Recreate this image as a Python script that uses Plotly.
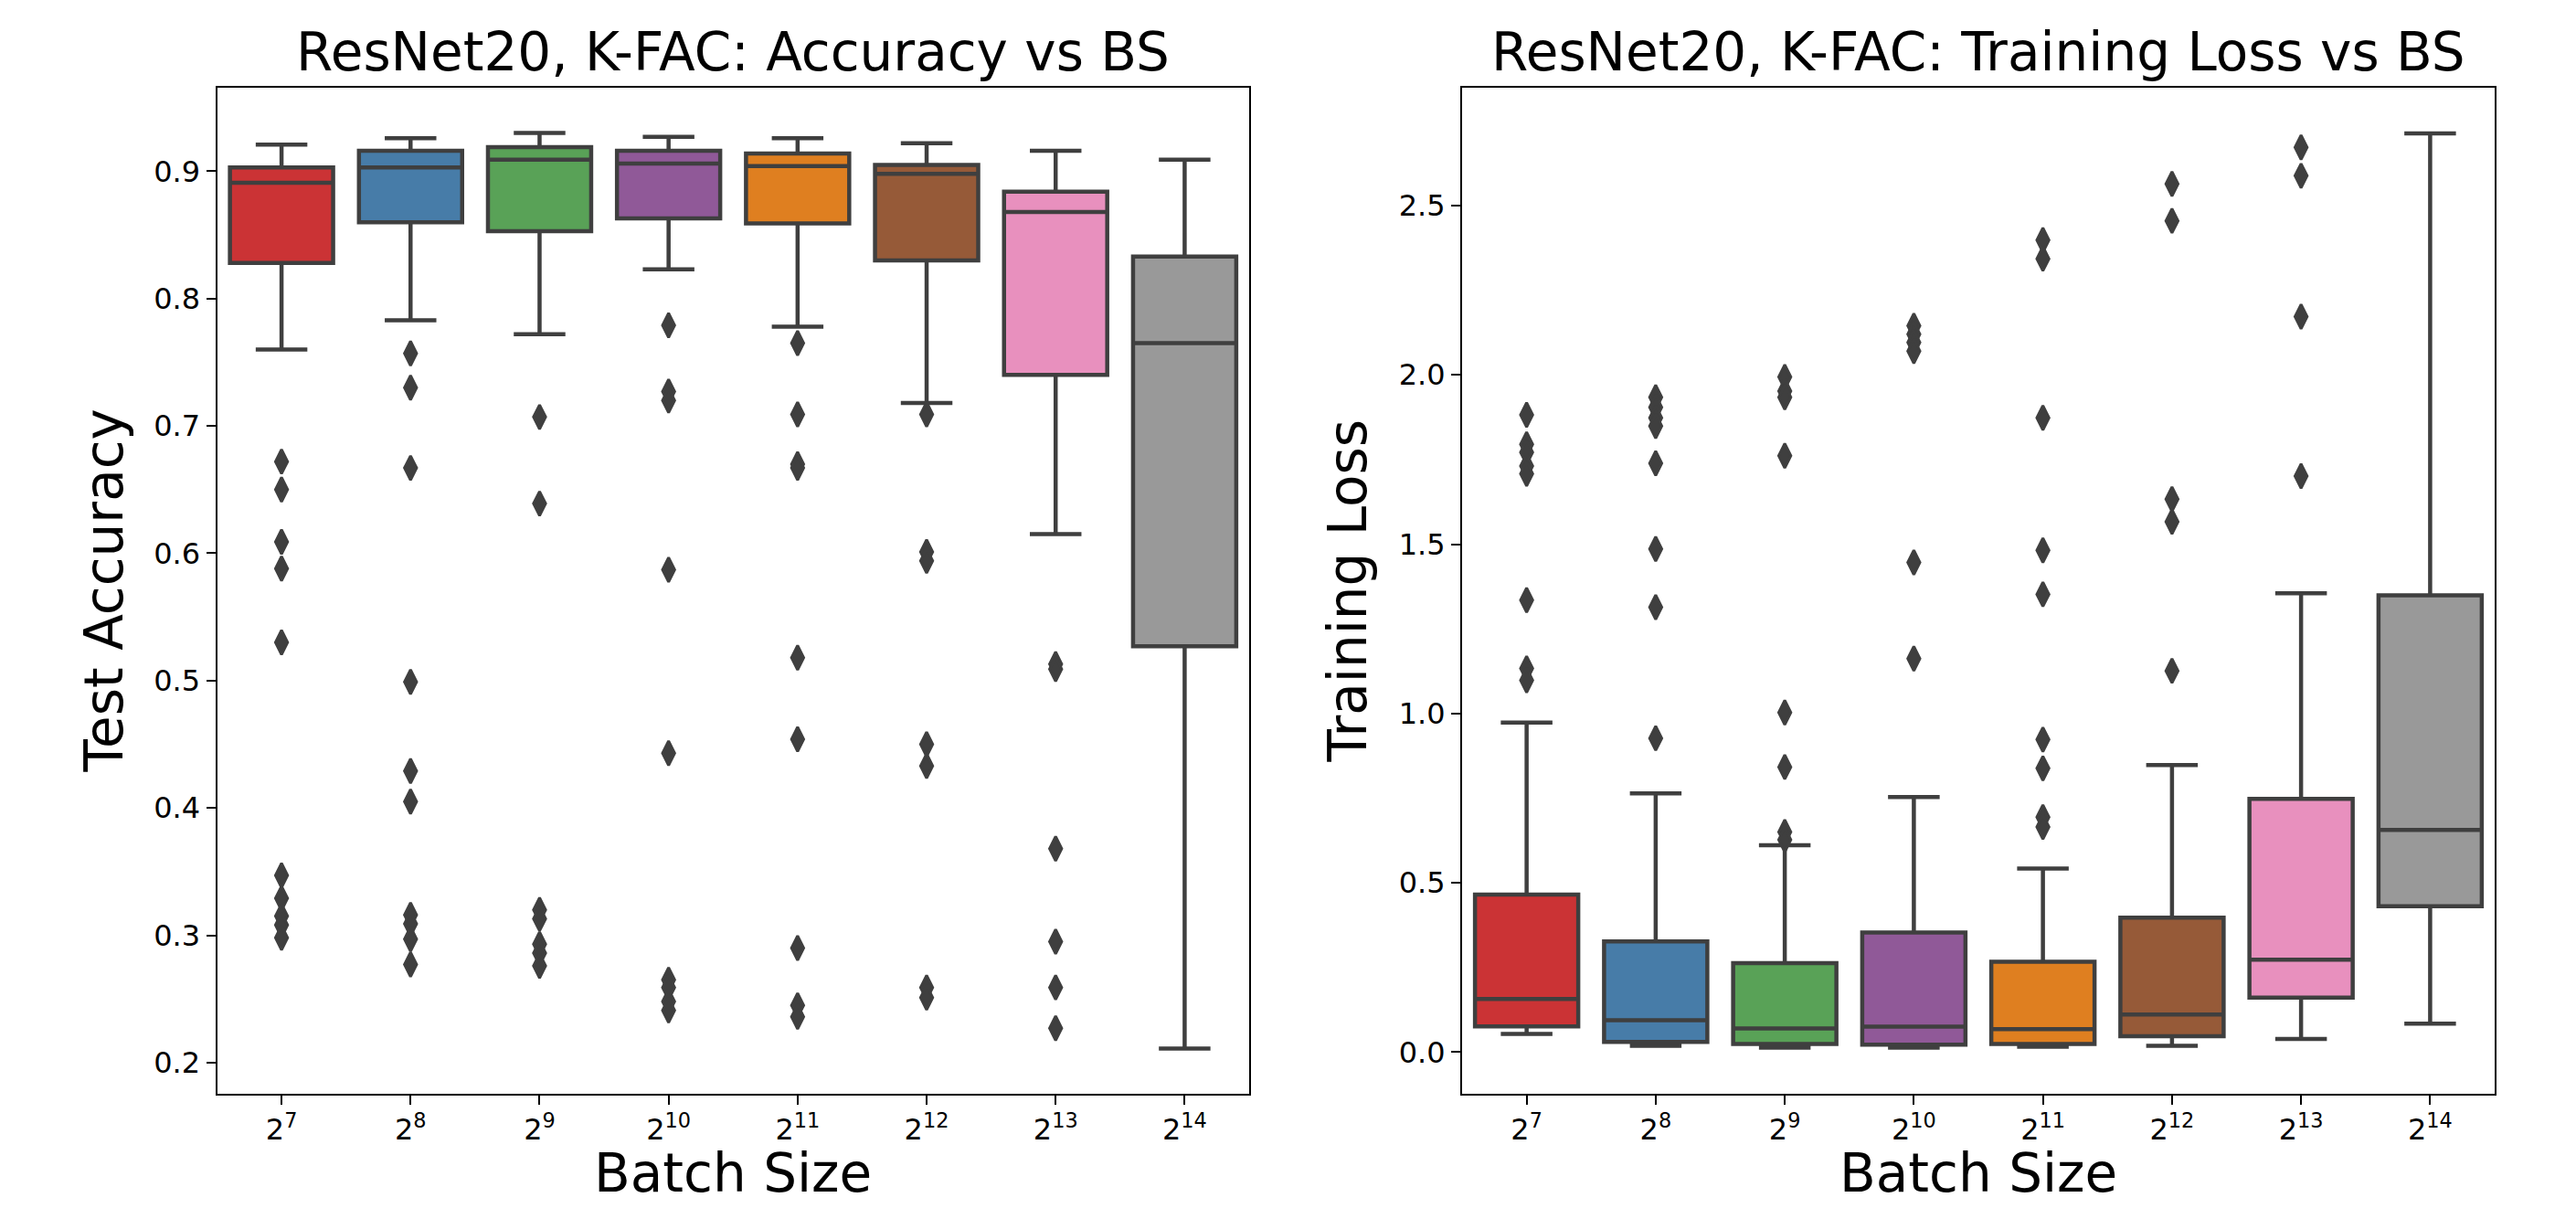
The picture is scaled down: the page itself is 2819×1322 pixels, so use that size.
import plotly.graph_objects as go

# ---------------- data ----------------
tick_labels = ["2<sup>7</sup>", "2<sup>8</sup>", "2<sup>9</sup>", "2<sup>10</sup>",
               "2<sup>11</sup>", "2<sup>12</sup>", "2<sup>13</sup>", "2<sup>14</sup>"]
box_colors = ["#cb3335", "#477ca8", "#59a257", "#905998",
              "#df7f20", "#965a38", "#e890be", "#999999"]

# Test accuracy box statistics
acc_lo = [0.760, 0.783, 0.772, 0.823, 0.778, 0.718, 0.615, 0.211]
acc_q1 = [0.828, 0.860, 0.853, 0.863, 0.859, 0.830, 0.740, 0.527]
acc_med = [0.891, 0.903, 0.909, 0.906, 0.904, 0.898, 0.868, 0.765]
acc_q3 = [0.903, 0.916, 0.919, 0.916, 0.914, 0.905, 0.884, 0.833]
acc_hi = [0.921, 0.926, 0.930, 0.927, 0.926, 0.922, 0.916, 0.909]
acc_outliers = [
    [0.672, 0.650, 0.609, 0.588, 0.530, 0.347, 0.329, 0.315, 0.308, 0.298],
    [0.757, 0.730, 0.667, 0.499, 0.429, 0.405, 0.316, 0.309, 0.297, 0.277],
    [0.707, 0.639, 0.320, 0.313, 0.293, 0.286, 0.276],
    [0.779, 0.727, 0.720, 0.587, 0.443, 0.265, 0.259, 0.248, 0.241],
    [0.765, 0.709, 0.670, 0.667, 0.518, 0.454, 0.290, 0.245, 0.236],
    [0.709, 0.601, 0.594, 0.450, 0.433, 0.259, 0.251],
    [0.513, 0.509, 0.368, 0.295, 0.259, 0.227],
    [],
]

# Training loss box statistics
loss_lo = [0.054, 0.019, 0.013, 0.013, 0.016, 0.019, 0.039, 0.084]
loss_q1 = [0.076, 0.030, 0.024, 0.022, 0.024, 0.047, 0.161, 0.431]
loss_med = [0.157, 0.094, 0.070, 0.075, 0.068, 0.111, 0.273, 0.656]
loss_q3 = [0.465, 0.327, 0.263, 0.353, 0.267, 0.397, 0.748, 1.349]
loss_hi = [0.973, 0.764, 0.611, 0.753, 0.542, 0.848, 1.355, 2.713]
loss_outliers = [
    [1.882, 1.795, 1.771, 1.731, 1.708, 1.335, 1.133, 1.098],
    [1.934, 1.904, 1.873, 1.849, 1.739, 1.486, 1.314, 0.927],
    [1.994, 1.952, 1.934, 1.761, 1.003, 0.842, 0.650, 0.627],
    [2.145, 2.120, 2.096, 2.070, 1.446, 1.162],
    [2.398, 2.343, 1.873, 1.482, 1.352, 0.923, 0.838, 0.694, 0.665],
    [2.564, 2.455, 1.633, 1.566, 1.126],
    [2.672, 2.588, 2.172, 1.701],
    [],
]

# ---------------- figure ----------------
W, H = 2819, 1322
FONT = "DejaVu Sans"
EDGE = "#3f3f3f"
fig = go.Figure()


def add_panel(lo, q1, med, q3, hi, outl, xa, ya):
    for i in range(len(q1)):
        fig.add_trace(go.Box(
            x=[i], lowerfence=[lo[i]], q1=[q1[i]], median=[med[i]], q3=[q3[i]],
            upperfence=[hi[i]], width=0.8, whiskerwidth=0.5,
            fillcolor=box_colors[i], line=dict(color=EDGE, width=4.5),
            boxpoints=False, showlegend=False, xaxis=xa, yaxis=ya, hoverinfo="skip",
        ))
    for i in range(len(outl)):
        if outl[i]:
            fig.add_trace(go.Scatter(
                x=[i] * len(outl[i]), y=outl[i], mode="markers",
                marker=dict(symbol="diamond-tall", size=19, color=EDGE,
                            line=dict(color=EDGE, width=3)),
                showlegend=False, xaxis=xa, yaxis=ya, hoverinfo="skip",
            ))


add_panel(acc_lo, acc_q1, acc_med, acc_q3, acc_hi, acc_outliers, "x", "y")
add_panel(loss_lo, loss_q1, loss_med, loss_q3, loss_hi, loss_outliers, "x2", "y2")

ax_common = dict(showline=True, linecolor="black", linewidth=2, mirror=True,
                 ticks="outside", ticklen=10, tickwidth=2, tickcolor="black",
                 showgrid=False, zeroline=False,
                 tickfont=dict(family=FONT, size=32, color="black"))

yd = [1 - 1197 / H, 1 - 96 / H]
fig.update_layout(
    width=W, height=H, margin=dict(l=0, r=0, t=0, b=0),
    paper_bgcolor="white", plot_bgcolor="white", boxmode="overlay",
    font=dict(family=FONT, color="black"),
    xaxis=dict(domain=[237.5 / W, 1367 / W], range=[-0.5, 7.5],
               tickvals=list(range(8)), ticktext=tick_labels, anchor="y", **ax_common),
    yaxis=dict(domain=yd, range=[0.1755, 0.9656], tickvals=[0.2, 0.3, 0.4, 0.5, 0.6, 0.7, 0.8, 0.9],
               tickformat=".1f", anchor="x", **ax_common),
    xaxis2=dict(domain=[1600 / W, 2730 / W], range=[-0.5, 7.5],
                tickvals=list(range(8)), ticktext=tick_labels, anchor="y2", **ax_common),
    yaxis2=dict(domain=yd, range=[-0.123, 2.848], tickvals=[0.0, 0.5, 1.0, 1.5, 2.0, 2.5],
                tickformat=".1f", anchor="x2", **ax_common),
)

big = dict(family=FONT, size=58, color="black")
ann = []
for xr, yr, title, ylab, ylx in [
    ("x domain", "y domain", "ResNet20, K-FAC: Accuracy vs BS", "Test Accuracy", 113 / W),
    ("x2 domain", "y2 domain", "ResNet20, K-FAC: Training Loss vs BS", "Training Loss", 1474 / W),
]:
    ann.append(dict(text=title, xref=xr, yref="paper", x=0.5, y=1 - 57 / H,
                    xanchor="center", yanchor="middle", showarrow=False, font=big))
    ann.append(dict(text="Batch Size", xref=xr, yref="paper", x=0.5, y=1 - 1284 / H,
                    xanchor="center", yanchor="middle", showarrow=False, font=big))
    ann.append(dict(text=ylab, xref="paper", yref=yr, x=ylx, y=0.5, textangle=-90,
                    xanchor="center", yanchor="middle", showarrow=False, font=big))
fig.update_layout(annotations=ann)

fig.write_html("out.html", config={"displayModeBar": False},
               post_script="document.body.style.margin='0';document.body.style.overflow='hidden';")
